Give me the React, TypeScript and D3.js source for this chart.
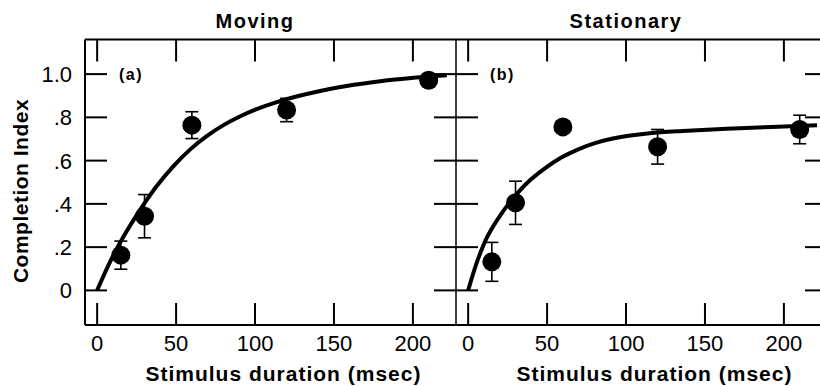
import React from 'react';
import * as d3 from 'd3';

// stimulus durations (msec) of the measured points
const durations = [15, 30, 60, 120, 210];

// panel (a) Moving
const movingMean = [0.163, 0.343, 0.764, 0.834, 0.972];
const movingErr = [0.065, 0.1, 0.062, 0.054, 0.03];
const movingFitX = [0, 8.4, 16.8, 27.4, 38, 48.5, 59, 69.6, 80, 90.7, 101, 111.8, 124.4, 137, 158, 179.3, 200.4, 221.5];
const movingFitY = [0, 0.135, 0.25, 0.375, 0.485, 0.576, 0.652, 0.714, 0.764, 0.805, 0.838, 0.866, 0.893, 0.915, 0.945, 0.967, 0.983, 0.995];

// panel (b) Stationary
const stationaryMean = [0.132, 0.405, 0.756, 0.664, 0.744];
const stationaryErr = [0.09, 0.1, 0.015, 0.08, 0.066];
const stationaryFitX = [0, 6, 12.4, 20.8, 29.3, 37.8, 48.4, 59, 69.7, 80.3, 90.9, 101.5, 115, 136, 157.6, 180, 208.5, 221];
const stationaryFitY = [0, 0.14, 0.252, 0.352, 0.433, 0.5, 0.563, 0.614, 0.652, 0.681, 0.701, 0.715, 0.727, 0.737, 0.745, 0.752, 0.76, 0.763];

const xTicks = [0, 50, 100, 150, 200];
const yTicks = [0, 0.2, 0.4, 0.6, 0.8, 1.0];
const yTickLabels = ['0', '.2', '.4', '.6', '.8', '1.0'];

const W = 820;
const H = 386;
const top = 39.5;
const bottom = 325;
const panelW = 371;
const tickLen = 22;
const font = '"Liberation Sans", Arial, Helvetica, sans-serif';

const y = d3.scaleLinear().domain([-0.16, 1.16]).range([bottom, top]);

type PanelProps = {
  left: number;
  title: string;
  tag: string;
  mean: number[];
  err: number[];
  fitX: number[];
  fitY: number[];
  showYLabels: boolean;
};

const Panel = ({ left, title, tag, mean, err, fitX, fitY, showYLabels }: PanelProps) => {
  const x = d3.scaleLinear().domain([-7.7, 227.3]).range([left, left + panelW]);
  const right = left + panelW;

  const line = d3.line<number>()
    .x((d, i) => x(fitX[i]))
    .y(d => y(d))
    .curve(d3.curveCatmullRom.alpha(0.5));

  return (
    <g>
      {/* ticks on all four sides, pointing inward */}
      {xTicks.map(t => (
        <g key={'xt' + t} stroke="#000" strokeWidth={2}>
          <line x1={x(t)} x2={x(t)} y1={top} y2={top + tickLen} />
          <line x1={x(t)} x2={x(t)} y1={bottom} y2={bottom - tickLen} />
        </g>
      ))}
      {yTicks.map(t => (
        <g key={'yt' + t} stroke="#000" strokeWidth={2}>
          <line x1={left} x2={left + tickLen} y1={y(t)} y2={y(t)} />
          <line x1={right} x2={right - tickLen} y1={y(t)} y2={y(t)} />
        </g>
      ))}

      {/* tick labels */}
      {xTicks.map(t => (
        <text key={'xl' + t} x={x(t)} y={351} textAnchor="middle" fontSize={22} fontFamily={font}>
          {t}
        </text>
      ))}
      {showYLabels && yTicks.map((t, i) => (
        <text key={'yl' + t} x={72} y={y(t)} dy="0.36em" textAnchor="end" fontSize={22} fontFamily={font}>
          {yTickLabels[i]}
        </text>
      ))}

      {/* titles */}
      <text x={x(100)} y={28} textAnchor="middle" fontSize={20} fontWeight="bold" fontFamily={font} letterSpacing={1.5}>
        {title}
      </text>
      <text x={x(118)} y={381} textAnchor="middle" fontSize={21} fontWeight="bold" fontFamily={font} letterSpacing={1}>
        Stimulus duration (msec)
      </text>
      <text x={left + 34} y={80} fontSize={16} fontWeight="bold" fontFamily={font} letterSpacing={1.5}>
        {tag}
      </text>

      {/* fitted curve */}
      <path d={line(fitY) || ''} fill="none" stroke="#000" strokeWidth={4} strokeLinejoin="round" />

      {/* error bars and points */}
      {durations.map((d, i) => (
        <g key={'pt' + d} stroke="#000" strokeWidth={1.6}>
          <line x1={x(d)} x2={x(d)} y1={y(mean[i] - err[i])} y2={y(mean[i] + err[i])} />
          <line x1={x(d) - 6.5} x2={x(d) + 6.5} y1={y(mean[i] - err[i])} y2={y(mean[i] - err[i])} />
          <line x1={x(d) - 6.5} x2={x(d) + 6.5} y1={y(mean[i] + err[i])} y2={y(mean[i] + err[i])} />
          <circle cx={x(d)} cy={y(mean[i])} r={9.5} fill="#000" stroke="none" />
        </g>
      ))}
    </g>
  );
};

export default function App() {
  const leftA = 85;
  const leftB = leftA + panelW;
  return (
    <svg width={W} height={H} style={{ position: 'absolute', left: 0, top: 0, background: '#fff' }}>
      <rect x={0} y={0} width={W} height={H} fill="#fff" />
      <Panel
        left={leftA}
        title="Moving"
        tag="(a)"
        mean={movingMean}
        err={movingErr}
        fitX={movingFitX}
        fitY={movingFitY}
        showYLabels={true}
      />
      <Panel
        left={leftB}
        title="Stationary"
        tag="(b)"
        mean={stationaryMean}
        err={stationaryErr}
        fitX={stationaryFitX}
        fitY={stationaryFitY}
        showYLabels={false}
      />
      {/* frame */}
      <line x1={leftA} x2={leftB + panelW} y1={top} y2={top} stroke="#000" strokeWidth={2} />
      <line x1={leftA} x2={leftB + panelW} y1={bottom} y2={bottom} stroke="#000" strokeWidth={2} />
      <line x1={leftA} x2={leftA} y1={top} y2={bottom} stroke="#000" strokeWidth={2} />
      <line x1={leftB} x2={leftB} y1={top} y2={bottom} stroke="#000" strokeWidth={1.5} />

      <text
        transform={`translate(28,191) rotate(-90)`}
        textAnchor="middle"
        fontSize={21}
        fontWeight="bold"
        fontFamily={font}
        letterSpacing={0.5}
      >
        Completion Index
      </text>
    </svg>
  );
}
